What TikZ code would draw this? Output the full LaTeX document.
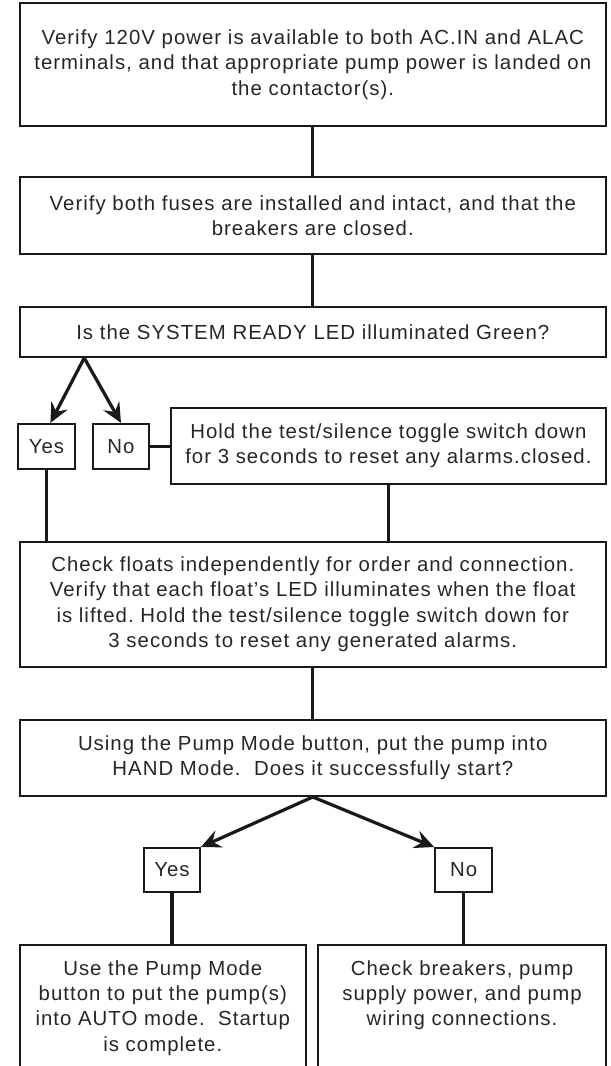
\documentclass[tikz,border=0pt]{standalone}
\usepackage{fontspec}
\setmainfont{Liberation Sans}[LetterSpace=5]
\usetikzlibrary{positioning,arrows.meta}
\frenchspacing

\begin{document}
\begin{tikzpicture}[
  stepbox/.style={draw=black!90, line width=1.4pt, rectangle, align=center,
                  inner sep=0pt, text=black!85},
  answer/.style={draw=black!90, line width=1.4pt, rectangle, minimum width=1.4cm,
                 minimum height=1.1cm, inner sep=0pt, text=black!85},
  link/.style={draw=black!90, line width=2.3pt},
  branch/.style={link, -{Stealth[length=14pt,width=13pt,inset=5pt]}},
  font=\fontsize{14.5}{18.1}\selectfont
]
\useasboundingbox (0,0) rectangle (15.275,26.65);

% Main steps
\node[stepbox, minimum width=14.66cm, minimum height=3.075cm] (pwr) at (7.82,25.04)
  {Verify 120V power is available to both AC.IN and ALAC\\
   terminals, and that appropriate pump power is landed on\\
   the contactor(s).};
\node[stepbox, minimum width=14.66cm, minimum height=1.925cm] (fuse) at (7.82,21.26)
  {Verify both fuses are installed and intact, and that the\\
   breakers are closed.};
\node[stepbox, minimum width=14.66cm, minimum height=1.25cm] (sys) at (7.82,18.35)
  {Is the SYSTEM READY LED illuminated Green?};

% First decision
\node[answer, minimum width=1.425cm, minimum height=1.125cm] (yes1) at (1.16,15.49) {Yes};
\node[answer, minimum height=1.125cm] (no1) at (3.025,15.49) {No};
\node[stepbox, minimum width=10.875cm, minimum height=1.9cm] (hold) at (9.71,15.5)
  {Hold the test/silence toggle switch down\\
   for 3 seconds to reset any alarms.closed.};

\node[stepbox, minimum width=14.66cm, minimum height=3.125cm] (flt) at (7.82,11.54)
  {Check floats independently for order and connection.\\
   Verify that each float’s LED illuminates when the float\\
   is lifted. Hold the test/silence toggle switch down for\\
   3 seconds to reset any generated alarms.};
\node[stepbox, minimum width=14.66cm, minimum height=1.9cm] (hand) at (7.82,7.7)
  {Using the Pump Mode button, put the pump into\\
   HAND Mode.~ Does it successfully start?};

% Second decision
\node[answer] (yes2) at (4.3,4.9) {Yes};
\node[answer, minimum width=1.425cm] (no2) at (11.59,4.9) {No};

% Open-ended result boxes
\node[stepbox, anchor=north, minimum width=7.16cm, minimum height=3.6cm] (auto) at (4.07,3.05) {};
\node[align=center, inner sep=0pt, text=black!85, below=0.4cm of auto.north] (autotxt)
  {Use the Pump Mode\\ button to put the pump(s)\\ into AUTO mode.~ Startup\\ is complete.};
\node[stepbox, anchor=north, minimum width=7.2cm, minimum height=3.6cm] (brk) at (11.55,3.05) {};
\node[align=center, inner sep=0pt, text=black!85, below=0.4cm of brk.north] (brktxt)
  {Check breakers, pump\\ supply power, and pump\\ wiring connections.};

% Connectors
\draw[link] (pwr) -- (fuse);
\draw[link] (fuse) -- (sys);
\coordinate (fork) at ([xshift=1.64cm]sys.south west);
\draw[branch] (fork) -- ([xshift=0.1cm]yes1.north);
\draw[branch] (fork) -- (no1.north);
\draw[link] (no1.east) -- (no1.east -| hold.west);
\draw[link] (yes1.south) -- (yes1.south |- flt.north);
\draw[link] (hold.south) -- (hold.south |- flt.north);
\draw[link] (flt) -- (hand);
\draw[branch] (hand.south) -- (yes2.north east);
\draw[branch] (hand.south) -- (no2.north west);
\draw[link] (yes2.south) -- (yes2.south |- auto.north);
\draw[link] (no2.south) -- (no2.south |- brk.north);
\end{tikzpicture}
\end{document}
